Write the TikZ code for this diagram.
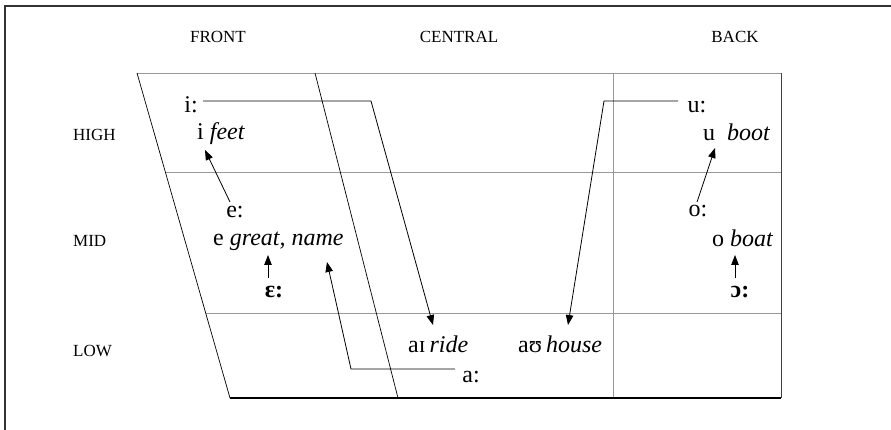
\documentclass[tikz,border=0pt]{standalone}
\usepackage{fontspec}
\setmainfont{Liberation Serif}
\usetikzlibrary{arrows.meta}
\begin{document}
\begin{tikzpicture}[x=1pt,y=-1pt,
  grid/.style={draw=black!40, line width=0.8pt},
  slant/.style={draw=black, line width=0.7pt},
  conn/.style={draw=black, line width=0.8pt},
  arr/.style={conn, -{Triangle[length=10pt,width=7.5pt]}},
  head/.style={font=\fontsize{17}{20}\selectfont, inner sep=0pt, anchor=base},
  rowlab/.style={font=\fontsize{17}{20}\selectfont, inner sep=0pt, anchor=base west},
  vw/.style={font=\fontsize{24}{28}\selectfont, inner sep=0pt, anchor=base},
  vwl/.style={font=\fontsize{24}{28}\selectfont, inner sep=0pt, anchor=base west},
]
\useasboundingbox (0,0) rectangle (891,430);
% outer frame
\draw[line width=1.5pt, draw=black!80] (5,430) -- (5,6) -- (891,6);
% chart frame
\coordinate (TL) at (137,73); \coordinate (TR) at (781,73);
\coordinate (BL) at (230,398); \coordinate (BR) at (781,398);
\coordinate (CT) at (315,73); \coordinate (CB) at (398,398);
\coordinate (VT) at (613,73); \coordinate (VB) at (613,398);
\coordinate (HL) at (165.3,172); \coordinate (HR) at (781,172);
\coordinate (ML) at (205.7,313); \coordinate (MR) at (781,313);
\draw[grid] (TL) -- (TR);
\draw[grid] (HL) -- (HR);
\draw[grid] (ML) -- (MR);
\draw[grid] (VT) -- (VB);
\draw[draw=black!75, line width=1pt] (TR) -- (BR);
\draw[line width=1.2pt] (BL) -- (BR);
\draw[slant] (TL) -- (BL);
\draw[slant] (CT) -- (CB);
% headers
\node[head] (front) at (218,43) {FRONT};
\node[head] (central) at (459,43) {CENTRAL};
\node[head] (back) at (735,43) {BACK};
\node[rowlab] (high) at (73,141) {HIGH};
\node[rowlab] (mid) at (73,247) {MID};
\node[rowlab] (low) at (73,356) {LOW};
% vowels
\node[vw] (il) at (191,113) {i:};
\node[vwl] (is) at (197,140) {i \textit{feet}};
\node[vw] (el) at (235,218) {e:};
\node[vwl] (es) at (213,246) {e \textit{great, name}};
\node[vw] (eps) at (274,298) {\textbf{ɛ:}};
\node[vwl] (ai) at (408,352) {aɪ\,\textit{ride}};
\node[vwl] (au) at (518,352) {aʊ\,\textit{house}};
\node[vw] (al) at (471,382) {a:};
\node[vw] (ul) at (697,113) {u:};
\node[vwl] (us) at (703,141) {u\hspace{0.5em}\textit{boot}};
\node[vw] (ol) at (698,217) {o:};
\node[vwl] (os) at (712,247) {o \textit{boat}};
\node[vw] (opl) at (740,298) {\textbf{ɔ:}};
% connector points
\coordinate (iStart) at (203,101); \coordinate (iBend) at (371,101); \coordinate (aiTip) at (433,325);
\coordinate (uStart) at (678,101); \coordinate (uBend) at (604,101); \coordinate (auTip) at (568,325);
\coordinate (aStart) at (455,369); \coordinate (aBend) at (351,369); \coordinate (esTip) at (327,262);
\coordinate (elTop) at (230,202); \coordinate (isTip) at (205,150);
\coordinate (olTop) at (697,202); \coordinate (usTip) at (715,148);
\coordinate (epsTop) at (268,278); \coordinate (esTip2) at (268,255);
\coordinate (oplTop) at (735,278); \coordinate (osTip) at (735,255);
\draw[arr] (iStart) -- (iBend) -- (aiTip);
\draw[arr] (uStart) -- (uBend) -- (auTip);
\draw[arr] (aStart) -- (aBend) -- (esTip);
\draw[arr] (elTop) -- (isTip);
\draw[arr] (olTop) -- (usTip);
\draw[arr] (epsTop) -- (esTip2);
\draw[arr] (oplTop) -- (osTip);
\end{tikzpicture}
\end{document}
